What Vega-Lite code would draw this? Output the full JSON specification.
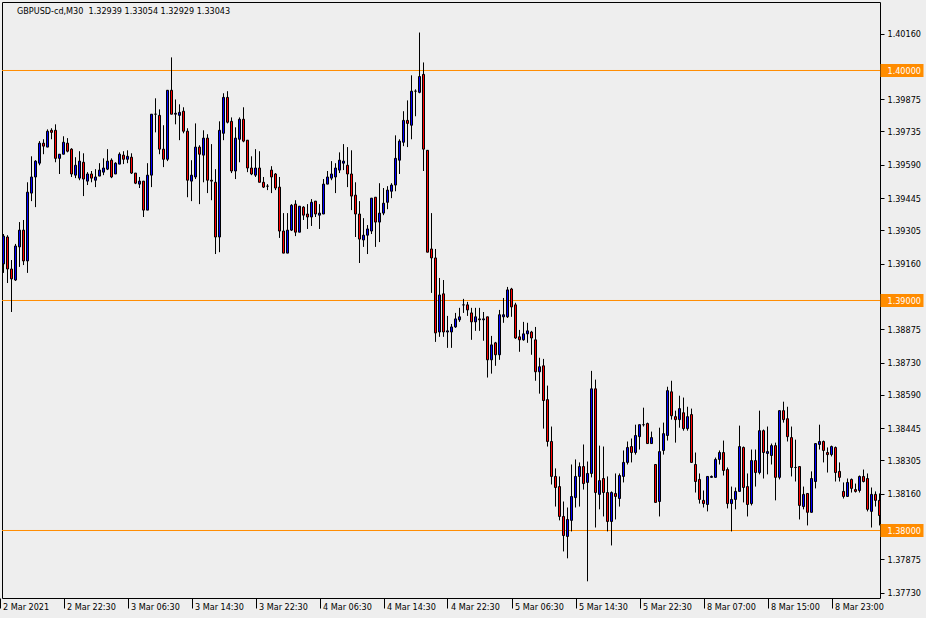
{
"$schema":"https://vega.github.io/schema/vega-lite/v6.json",
"width":878,"height":596,
"autosize":{"type":"none"},
"padding":{"left":2,"top":2,"right":46,"bottom":20},
"background":"#eeeeee",
"title":{"text":"GBPUSD-cd,M30\u00a0\u00a01.32939 1.33054 1.32929 1.33043","anchor":"start","frame":"group","orient":"top","offset":-8,"dy":10,"baseline":"middle","dx":15,"font":"DejaVu Sans Condensed, Liberation Sans, sans-serif","fontSize":9,"fontWeight":"normal","color":"#000000"},
"datasets":{
"levels":[{"v":1.38},{"v":1.39},{"v":1.4}],
"candles":[
{"i":0,"o":1.39159,"h":1.39289,"l":1.39120,"c":1.39280},
{"i":1,"o":1.39276,"h":1.39284,"l":1.39076,"c":1.39137},
{"i":2,"o":1.39137,"h":1.39176,"l":1.38950,"c":1.39094},
{"i":3,"o":1.39089,"h":1.39246,"l":1.39085,"c":1.39237},
{"i":4,"o":1.39233,"h":1.39341,"l":1.39146,"c":1.39306},
{"i":5,"o":1.39306,"h":1.39350,"l":1.39154,"c":1.39172},
{"i":6,"o":1.39172,"h":1.39514,"l":1.39120,"c":1.39471},
{"i":7,"o":1.39467,"h":1.39627,"l":1.39432,"c":1.39537},
{"i":8,"o":1.39537,"h":1.39610,"l":1.39406,"c":1.39606},
{"i":9,"o":1.39597,"h":1.39693,"l":1.39588,"c":1.39684},
{"i":10,"o":1.39684,"h":1.39701,"l":1.39636,"c":1.39671},
{"i":11,"o":1.39667,"h":1.39744,"l":1.39667,"c":1.39736},
{"i":12,"o":1.39740,"h":1.39749,"l":1.39701,"c":1.39731},
{"i":13,"o":1.39740,"h":1.39766,"l":1.39601,"c":1.39618},
{"i":14,"o":1.39618,"h":1.39636,"l":1.39550,"c":1.39636},
{"i":15,"o":1.39636,"h":1.39714,"l":1.39636,"c":1.39688},
{"i":16,"o":1.39684,"h":1.39706,"l":1.39644,"c":1.39649},
{"i":17,"o":1.39658,"h":1.39662,"l":1.39537,"c":1.39550},
{"i":18,"o":1.39545,"h":1.39623,"l":1.39532,"c":1.39588},
{"i":19,"o":1.39532,"h":1.39649,"l":1.39523,"c":1.39606},
{"i":20,"o":1.39601,"h":1.39640,"l":1.39454,"c":1.39528},
{"i":21,"o":1.39519,"h":1.39558,"l":1.39502,"c":1.39550},
{"i":22,"o":1.39550,"h":1.39563,"l":1.39514,"c":1.39532},
{"i":23,"o":1.39523,"h":1.39571,"l":1.39493,"c":1.39537},
{"i":24,"o":1.39541,"h":1.39597,"l":1.39541,"c":1.39567},
{"i":25,"o":1.39558,"h":1.39618,"l":1.39545,"c":1.39576},
{"i":26,"o":1.39571,"h":1.39658,"l":1.39567,"c":1.39606},
{"i":27,"o":1.39610,"h":1.39618,"l":1.39532,"c":1.39537},
{"i":28,"o":1.39550,"h":1.39601,"l":1.39550,"c":1.39597},
{"i":29,"o":1.39593,"h":1.39644,"l":1.39593,"c":1.39636},
{"i":30,"o":1.39632,"h":1.39649,"l":1.39593,"c":1.39614},
{"i":31,"o":1.39614,"h":1.39653,"l":1.39597,"c":1.39627},
{"i":32,"o":1.39623,"h":1.39640,"l":1.39550,"c":1.39554},
{"i":33,"o":1.39554,"h":1.39554,"l":1.39506,"c":1.39510},
{"i":34,"o":1.39506,"h":1.39537,"l":1.39489,"c":1.39519},
{"i":35,"o":1.39519,"h":1.39519,"l":1.39363,"c":1.39393},
{"i":36,"o":1.39393,"h":1.39597,"l":1.39393,"c":1.39545},
{"i":37,"o":1.39545,"h":1.39810,"l":1.39493,"c":1.39810},
{"i":38,"o":1.39810,"h":1.39879,"l":1.39731,"c":1.39810},
{"i":39,"o":1.39805,"h":1.39831,"l":1.39636,"c":1.39658},
{"i":40,"o":1.39658,"h":1.39762,"l":1.39580,"c":1.39614},
{"i":41,"o":1.39614,"h":1.39914,"l":1.39606,"c":1.39914},
{"i":42,"o":1.39914,"h":1.40057,"l":1.39810,"c":1.39810},
{"i":43,"o":1.39810,"h":1.39874,"l":1.39766,"c":1.39814},
{"i":44,"o":1.39805,"h":1.39853,"l":1.39697,"c":1.39818},
{"i":45,"o":1.39823,"h":1.39840,"l":1.39727,"c":1.39736},
{"i":46,"o":1.39736,"h":1.39749,"l":1.39449,"c":1.39523},
{"i":47,"o":1.39519,"h":1.39610,"l":1.39432,"c":1.39545},
{"i":48,"o":1.39537,"h":1.39770,"l":1.39528,"c":1.39667},
{"i":49,"o":1.39667,"h":1.39675,"l":1.39419,"c":1.39636},
{"i":50,"o":1.39632,"h":1.39740,"l":1.39514,"c":1.39706},
{"i":51,"o":1.39706,"h":1.39723,"l":1.39467,"c":1.39523},
{"i":52,"o":1.39523,"h":1.39680,"l":1.39436,"c":1.39519},
{"i":53,"o":1.39514,"h":1.39571,"l":1.39202,"c":1.39276},
{"i":54,"o":1.39276,"h":1.39779,"l":1.39210,"c":1.39740},
{"i":55,"o":1.39727,"h":1.39901,"l":1.39697,"c":1.39883},
{"i":56,"o":1.39883,"h":1.39910,"l":1.39770,"c":1.39775},
{"i":57,"o":1.39779,"h":1.39796,"l":1.39554,"c":1.39563},
{"i":58,"o":1.39563,"h":1.39753,"l":1.39528,"c":1.39706},
{"i":59,"o":1.39701,"h":1.39796,"l":1.39601,"c":1.39788},
{"i":60,"o":1.39788,"h":1.39840,"l":1.39688,"c":1.39693},
{"i":61,"o":1.39697,"h":1.39697,"l":1.39558,"c":1.39576},
{"i":62,"o":1.39576,"h":1.39627,"l":1.39545,"c":1.39550},
{"i":63,"o":1.39545,"h":1.39658,"l":1.39537,"c":1.39576},
{"i":64,"o":1.39576,"h":1.39649,"l":1.39514,"c":1.39514},
{"i":65,"o":1.39514,"h":1.39537,"l":1.39489,"c":1.39493},
{"i":66,"o":1.39497,"h":1.39506,"l":1.39480,"c":1.39497},
{"i":67,"o":1.39567,"h":1.39584,"l":1.39467,"c":1.39537},
{"i":68,"o":1.39550,"h":1.39554,"l":1.39480,"c":1.39489},
{"i":69,"o":1.39493,"h":1.39537,"l":1.39272,"c":1.39302},
{"i":70,"o":1.39302,"h":1.39380,"l":1.39206,"c":1.39206},
{"i":71,"o":1.39206,"h":1.39380,"l":1.39206,"c":1.39306},
{"i":72,"o":1.39306,"h":1.39419,"l":1.39302,"c":1.39414},
{"i":73,"o":1.39419,"h":1.39436,"l":1.39280,"c":1.39297},
{"i":74,"o":1.39297,"h":1.39410,"l":1.39297,"c":1.39410},
{"i":75,"o":1.39406,"h":1.39410,"l":1.39350,"c":1.39371},
{"i":76,"o":1.39376,"h":1.39419,"l":1.39311,"c":1.39363},
{"i":77,"o":1.39363,"h":1.39441,"l":1.39324,"c":1.39427},
{"i":78,"o":1.39432,"h":1.39432,"l":1.39363,"c":1.39376},
{"i":79,"o":1.39371,"h":1.39419,"l":1.39311,"c":1.39380},
{"i":80,"o":1.39376,"h":1.39528,"l":1.39376,"c":1.39506},
{"i":81,"o":1.39506,"h":1.39563,"l":1.39506,"c":1.39537},
{"i":82,"o":1.39532,"h":1.39606,"l":1.39523,"c":1.39550},
{"i":83,"o":1.39537,"h":1.39597,"l":1.39467,"c":1.39576},
{"i":84,"o":1.39567,"h":1.39644,"l":1.39554,"c":1.39610},
{"i":85,"o":1.39597,"h":1.39680,"l":1.39567,"c":1.39606},
{"i":86,"o":1.39588,"h":1.39667,"l":1.39493,"c":1.39550},
{"i":87,"o":1.39550,"h":1.39653,"l":1.39393,"c":1.39454},
{"i":88,"o":1.39458,"h":1.39514,"l":1.39276,"c":1.39376},
{"i":89,"o":1.39376,"h":1.39432,"l":1.39163,"c":1.39267},
{"i":90,"o":1.39263,"h":1.39358,"l":1.39233,"c":1.39284},
{"i":91,"o":1.39284,"h":1.39328,"l":1.39202,"c":1.39311},
{"i":92,"o":1.39302,"h":1.39445,"l":1.39289,"c":1.39445},
{"i":93,"o":1.39449,"h":1.39449,"l":1.39233,"c":1.39341},
{"i":94,"o":1.39341,"h":1.39510,"l":1.39254,"c":1.39380},
{"i":95,"o":1.39380,"h":1.39489,"l":1.39371,"c":1.39423},
{"i":96,"o":1.39427,"h":1.39497,"l":1.39397,"c":1.39480},
{"i":97,"o":1.39475,"h":1.39510,"l":1.39445,"c":1.39502},
{"i":98,"o":1.39502,"h":1.39718,"l":1.39475,"c":1.39618},
{"i":99,"o":1.39610,"h":1.39701,"l":1.39550,"c":1.39693},
{"i":100,"o":1.39688,"h":1.39823,"l":1.39671,"c":1.39783},
{"i":101,"o":1.39783,"h":1.39870,"l":1.39667,"c":1.39770},
{"i":102,"o":1.39762,"h":1.39979,"l":1.39701,"c":1.39910},
{"i":103,"o":1.39910,"h":1.39918,"l":1.39801,"c":1.39910},
{"i":104,"o":1.39905,"h":1.40165,"l":1.39901,"c":1.39974},
{"i":105,"o":1.39983,"h":1.40035,"l":1.39563,"c":1.39658},
{"i":106,"o":1.39653,"h":1.39653,"l":1.39210,"c":1.39210},
{"i":107,"o":1.39224,"h":1.39380,"l":1.39033,"c":1.39185},
{"i":108,"o":1.39185,"h":1.39224,"l":1.38820,"c":1.38859},
{"i":109,"o":1.38863,"h":1.39098,"l":1.38842,"c":1.39024},
{"i":110,"o":1.39029,"h":1.39089,"l":1.38842,"c":1.38863},
{"i":111,"o":1.38863,"h":1.38933,"l":1.38794,"c":1.38868},
{"i":112,"o":1.38863,"h":1.38898,"l":1.38794,"c":1.38885},
{"i":113,"o":1.38885,"h":1.38946,"l":1.38881,"c":1.38920},
{"i":114,"o":1.38916,"h":1.38968,"l":1.38907,"c":1.38929},
{"i":115,"o":1.38981,"h":1.39007,"l":1.38946,"c":1.38981},
{"i":116,"o":1.38981,"h":1.38994,"l":1.38933,"c":1.38959},
{"i":117,"o":1.38946,"h":1.38968,"l":1.38829,"c":1.38907},
{"i":118,"o":1.38907,"h":1.38968,"l":1.38868,"c":1.38929},
{"i":119,"o":1.38920,"h":1.38968,"l":1.38868,"c":1.38916},
{"i":120,"o":1.38916,"h":1.38950,"l":1.38825,"c":1.38920},
{"i":121,"o":1.38929,"h":1.38929,"l":1.38665,"c":1.38742},
{"i":122,"o":1.38742,"h":1.38846,"l":1.38682,"c":1.38807},
{"i":123,"o":1.38816,"h":1.38820,"l":1.38716,"c":1.38764},
{"i":124,"o":1.38764,"h":1.38959,"l":1.38742,"c":1.38938},
{"i":125,"o":1.38929,"h":1.39011,"l":1.38903,"c":1.38938},
{"i":126,"o":1.38929,"h":1.39059,"l":1.38924,"c":1.39046},
{"i":127,"o":1.39050,"h":1.39055,"l":1.38929,"c":1.38972},
{"i":128,"o":1.38981,"h":1.38990,"l":1.38833,"c":1.38837},
{"i":129,"o":1.38842,"h":1.38872,"l":1.38777,"c":1.38829},
{"i":130,"o":1.38829,"h":1.38907,"l":1.38825,"c":1.38855},
{"i":131,"o":1.38855,"h":1.38903,"l":1.38816,"c":1.38868},
{"i":132,"o":1.38863,"h":1.38868,"l":1.38764,"c":1.38837},
{"i":133,"o":1.38829,"h":1.38885,"l":1.38651,"c":1.38690},
{"i":134,"o":1.38690,"h":1.38751,"l":1.38595,"c":1.38712},
{"i":135,"o":1.38716,"h":1.38746,"l":1.38443,"c":1.38565},
{"i":136,"o":1.38569,"h":1.38630,"l":1.38365,"c":1.38387},
{"i":137,"o":1.38387,"h":1.38452,"l":1.38200,"c":1.38235},
{"i":138,"o":1.38235,"h":1.38270,"l":1.38104,"c":1.38187},
{"i":139,"o":1.38191,"h":1.38235,"l":1.38044,"c":1.38061},
{"i":140,"o":1.38061,"h":1.38126,"l":1.37909,"c":1.37978},
{"i":141,"o":1.37974,"h":1.38100,"l":1.37879,"c":1.38048},
{"i":142,"o":1.38044,"h":1.38287,"l":1.37996,"c":1.38148},
{"i":143,"o":1.38143,"h":1.38309,"l":1.38100,"c":1.38235},
{"i":144,"o":1.38235,"h":1.38296,"l":1.38104,"c":1.38278},
{"i":145,"o":1.38278,"h":1.38374,"l":1.38178,"c":1.38204},
{"i":146,"o":1.38209,"h":1.38300,"l":1.37779,"c":1.38248},
{"i":147,"o":1.38248,"h":1.38694,"l":1.38231,"c":1.38616},
{"i":148,"o":1.38616,"h":1.38656,"l":1.38013,"c":1.38165},
{"i":149,"o":1.38157,"h":1.38369,"l":1.38092,"c":1.38217},
{"i":150,"o":1.38226,"h":1.38365,"l":1.38061,"c":1.38165},
{"i":151,"o":1.38165,"h":1.38235,"l":1.37996,"c":1.38039},
{"i":152,"o":1.38039,"h":1.38170,"l":1.37935,"c":1.38165},
{"i":153,"o":1.38161,"h":1.38248,"l":1.38048,"c":1.38148},
{"i":154,"o":1.38139,"h":1.38248,"l":1.38104,"c":1.38239},
{"i":155,"o":1.38235,"h":1.38348,"l":1.38209,"c":1.38296},
{"i":156,"o":1.38296,"h":1.38387,"l":1.38287,"c":1.38361},
{"i":157,"o":1.38365,"h":1.38400,"l":1.38296,"c":1.38339},
{"i":158,"o":1.38339,"h":1.38460,"l":1.38330,"c":1.38413},
{"i":159,"o":1.38408,"h":1.38460,"l":1.38352,"c":1.38460},
{"i":160,"o":1.38460,"h":1.38534,"l":1.38452,"c":1.38460},
{"i":161,"o":1.38465,"h":1.38469,"l":1.38378,"c":1.38378},
{"i":162,"o":1.38378,"h":1.38430,"l":1.38378,"c":1.38404},
{"i":163,"o":1.38287,"h":1.38287,"l":1.38122,"c":1.38122},
{"i":164,"o":1.38126,"h":1.38447,"l":1.38061,"c":1.38343},
{"i":165,"o":1.38348,"h":1.38469,"l":1.38330,"c":1.38421},
{"i":166,"o":1.38413,"h":1.38625,"l":1.38391,"c":1.38608},
{"i":167,"o":1.38603,"h":1.38651,"l":1.38482,"c":1.38499},
{"i":168,"o":1.38495,"h":1.38521,"l":1.38382,"c":1.38482},
{"i":169,"o":1.38482,"h":1.38586,"l":1.38447,"c":1.38530},
{"i":170,"o":1.38512,"h":1.38578,"l":1.38434,"c":1.38443},
{"i":171,"o":1.38443,"h":1.38538,"l":1.38434,"c":1.38495},
{"i":172,"o":1.38504,"h":1.38530,"l":1.38296,"c":1.38296},
{"i":173,"o":1.38287,"h":1.38339,"l":1.38165,"c":1.38213},
{"i":174,"o":1.38222,"h":1.38248,"l":1.38117,"c":1.38135},
{"i":175,"o":1.38131,"h":1.38174,"l":1.38100,"c":1.38117},
{"i":176,"o":1.38113,"h":1.38235,"l":1.38083,"c":1.38235},
{"i":177,"o":1.38231,"h":1.38239,"l":1.38231,"c":1.38235},
{"i":178,"o":1.38231,"h":1.38317,"l":1.38231,"c":1.38309},
{"i":179,"o":1.38309,"h":1.38348,"l":1.38287,"c":1.38339},
{"i":180,"o":1.38339,"h":1.38391,"l":1.38239,"c":1.38261},
{"i":181,"o":1.38265,"h":1.38274,"l":1.38096,"c":1.38117},
{"i":182,"o":1.38117,"h":1.38191,"l":1.37996,"c":1.38135},
{"i":183,"o":1.38135,"h":1.38187,"l":1.38092,"c":1.38170},
{"i":184,"o":1.38170,"h":1.38456,"l":1.38170,"c":1.38365},
{"i":185,"o":1.38361,"h":1.38365,"l":1.38122,"c":1.38187},
{"i":186,"o":1.38191,"h":1.38248,"l":1.38061,"c":1.38113},
{"i":187,"o":1.38117,"h":1.38352,"l":1.38109,"c":1.38304},
{"i":188,"o":1.38304,"h":1.38352,"l":1.38191,"c":1.38252},
{"i":189,"o":1.38252,"h":1.38521,"l":1.38244,"c":1.38434},
{"i":190,"o":1.38434,"h":1.38439,"l":1.38226,"c":1.38339},
{"i":191,"o":1.38335,"h":1.38452,"l":1.38244,"c":1.38343},
{"i":192,"o":1.38326,"h":1.38378,"l":1.38287,"c":1.38369},
{"i":193,"o":1.38369,"h":1.38382,"l":1.38131,"c":1.38231},
{"i":194,"o":1.38231,"h":1.38521,"l":1.38222,"c":1.38521},
{"i":195,"o":1.38521,"h":1.38560,"l":1.38469,"c":1.38482},
{"i":196,"o":1.38486,"h":1.38538,"l":1.38387,"c":1.38408},
{"i":197,"o":1.38404,"h":1.38452,"l":1.38235,"c":1.38274},
{"i":198,"o":1.38274,"h":1.38395,"l":1.38213,"c":1.38274},
{"i":199,"o":1.38278,"h":1.38278,"l":1.38048,"c":1.38109},
{"i":200,"o":1.38104,"h":1.38191,"l":1.38092,"c":1.38157},
{"i":201,"o":1.38161,"h":1.38161,"l":1.38022,"c":1.38079},
{"i":202,"o":1.38079,"h":1.38257,"l":1.38079,"c":1.38226},
{"i":203,"o":1.38213,"h":1.38378,"l":1.38183,"c":1.38378},
{"i":204,"o":1.38374,"h":1.38460,"l":1.38352,"c":1.38387},
{"i":205,"o":1.38387,"h":1.38391,"l":1.38296,"c":1.38348},
{"i":206,"o":1.38339,"h":1.38361,"l":1.38252,"c":1.38330},
{"i":207,"o":1.38330,"h":1.38369,"l":1.38322,"c":1.38365},
{"i":208,"o":1.38361,"h":1.38365,"l":1.38213,"c":1.38252},
{"i":209,"o":1.38257,"h":1.38296,"l":1.38213,"c":1.38231},
{"i":210,"o":1.38170,"h":1.38209,"l":1.38139,"c":1.38148},
{"i":211,"o":1.38148,"h":1.38226,"l":1.38148,"c":1.38209},
{"i":212,"o":1.38222,"h":1.38226,"l":1.38165,"c":1.38183},
{"i":213,"o":1.38178,"h":1.38204,"l":1.38165,"c":1.38170},
{"i":214,"o":1.38174,"h":1.38239,"l":1.38165,"c":1.38235},
{"i":215,"o":1.38235,"h":1.38265,"l":1.38209,"c":1.38213},
{"i":216,"o":1.38226,"h":1.38248,"l":1.38083,"c":1.38092},
{"i":217,"o":1.38083,"h":1.38187,"l":1.38013,"c":1.38157},
{"i":218,"o":1.38157,"h":1.38170,"l":1.38104,"c":1.38131},
{"i":219,"o":1.38131,"h":1.38161,"l":1.38022,"c":1.38065}
]},
"layer":[
{"data":{"name":"levels"},
 "mark":{"type":"rule","color":"#ff8c00","strokeWidth":1},
 "encoding":{"y":{"field":"v","type":"quantitative",
   "scale":{"domain":[1.377065,1.402978],"nice":false,"zero":false,"padding":0},
   "axis":{"orient":"right","title":null,"domain":false,"grid":false,"tickCount":60,
     "values":[1.3773,1.37875,1.38,1.3816,1.38305,1.38445,1.3859,1.3873,1.38875,1.39,1.3916,1.39305,1.39445,1.3959,1.39735,1.39875,1.4,1.4016],
     "format":".5f","labelAlign":"left","labelBaseline":"middle","labelFlush":false,"labelOverlap":false,"labelBound":false,
     "tickColor":{"condition":{"test":"abs(datum.value-1.4)<0.00001 || abs(datum.value-1.39)<0.00001 || abs(datum.value-1.38)<0.00001","value":"#ff8c00"},"value":"#000000"},
     "tickSize":{"condition":{"test":"abs(datum.value-1.4)<0.00001 || abs(datum.value-1.39)<0.00001 || abs(datum.value-1.38)<0.00001","value":43},"value":4},
     "tickWidth":{"condition":{"test":"abs(datum.value-1.4)<0.00001 || abs(datum.value-1.39)<0.00001 || abs(datum.value-1.38)<0.00001","value":13},"value":1},
     "labelPadding":{"condition":{"test":"abs(datum.value-1.4)<0.00001 || abs(datum.value-1.39)<0.00001 || abs(datum.value-1.38)<0.00001","value":-36},"value":3},
     "labelColor":{"condition":{"test":"abs(datum.value-1.4)<0.00001 || abs(datum.value-1.39)<0.00001 || abs(datum.value-1.38)<0.00001","value":"#ffffff"},"value":"#000000"}
   }}}},
{"data":{"name":"candles"},
 "mark":{"type":"rule","color":"#000000","strokeWidth":1,"clip":true},
 "encoding":{
   "x":{"field":"i","type":"quantitative",
     "scale":{"domain":[-0.375,219.125],"nice":false,"zero":false,"padding":0},
     "axis":{"title":null,"domain":false,"grid":false,"tickCount":60,
       "values":[0,16,32,48,64,80,96,112,128,144,160,176,192,208],
       "labelExpr":"['2 Mar 2021','2 Mar 22:30','3 Mar 06:30','3 Mar 14:30','3 Mar 22:30','4 Mar 06:30','4 Mar 14:30','4 Mar 22:30','5 Mar 06:30','5 Mar 14:30','5 Mar 22:30','8 Mar 07:00','8 Mar 15:00','8 Mar 23:00'][round(datum.value/16)]",
       "tickSize":10,"tickOffset":-4,"tickColor":"#000000","labelAlign":"left","labelBaseline":"alphabetic","labelPadding":1,"labelOffset":3,
       "labelFlush":false,"labelOverlap":false,"labelBound":false,"labelColor":"#000000"}},
   "y":{"field":"l","type":"quantitative"},
   "y2":{"field":"h"}}},
{"data":{"name":"candles"},
 "mark":{"type":"bar","size":2,"stroke":"#000000","strokeWidth":1,"clip":true},
 "encoding":{
   "x":{"field":"i","type":"quantitative"},
   "y":{"field":"o","type":"quantitative"},
   "y2":{"field":"c"},
   "fill":{"condition":{"test":"datum.c >= datum.o","value":"#0000ff"},"value":"#ff0000"}}}
],
"config":{
  "view":{"stroke":"#000000","strokeWidth":1,"fill":"#eeeeee"},
  "axis":{"labelFont":"DejaVu Sans Condensed, Liberation Sans, sans-serif","labelFontSize":9}
}
}
